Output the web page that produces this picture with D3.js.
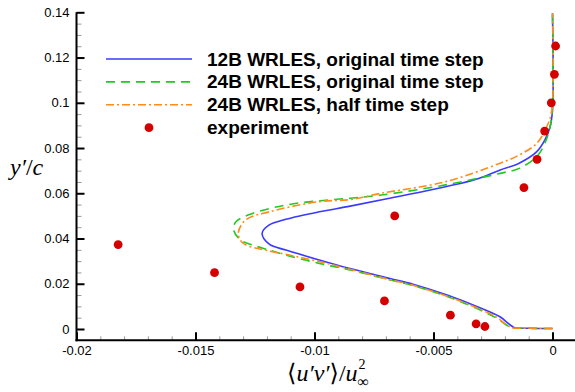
<!DOCTYPE html>
<html>
<head>
<meta charset="utf-8">
<script src="https://cdn.jsdelivr.net/npm/d3@7/dist/d3.min.js"></script>
<style>
  html, body { margin: 0; padding: 0; background: #fff; }
  svg { display: block; }
</style>
</head>
<body>
<svg id="chart" width="575" height="392"></svg>
<script>
// Reynolds shear stress profiles: <u'v'>/u_inf^2 versus wall distance y'/c

const seriesNames = [
  "12B WRLES, original time step",
  "24B WRLES, original time step",
  "24B WRLES, half time step",
  "experiment"
];

// [<u'v'>/u^2, y'/c] along each profile, from the wall upward
const wrles12Orig = [
  [0.0000, 0.0002], [-0.0010, 0.0003], [-0.0016, 0.0005], [-0.00167, 0.0010],
  [-0.00186, 0.0025], [-0.00221, 0.0054], [-0.00305, 0.0094], [-0.00443, 0.0150],
  [-0.00586, 0.0198], [-0.00683, 0.0223], [-0.00851, 0.0267], [-0.0098, 0.0305],
  [-0.0112, 0.0349], [-0.0119, 0.0375], [-0.0122, 0.0423], [-0.0119, 0.0460],
  [-0.0112, 0.0485], [-0.0098, 0.0518], [-0.0085, 0.0543], [-0.0069, 0.0577],
  [-0.0045, 0.0629], [-0.0032, 0.0662], [-0.0022, 0.0703], [-0.0014, 0.0733],
  [-0.00066, 0.0784], [-0.00032, 0.0836], [-0.0001, 0.0894], [0.0000, 0.0968],
  [0.0000, 0.1396]
];

const wrles24Orig = [
  [0.0000, 0.0002], [-0.0010, 0.0003], [-0.0017, 0.0005], [-0.0018, 0.0010],
  [-0.0020, 0.0022], [-0.00235, 0.0048], [-0.00310, 0.0087], [-0.00443, 0.0144],
  [-0.00586, 0.0192], [-0.00683, 0.0217], [-0.00851, 0.0261], [-0.0098, 0.0290],
  [-0.0112, 0.0327], [-0.0119, 0.0349], [-0.0126, 0.0371], [-0.0131, 0.0393],
  [-0.0134, 0.0438], [-0.0133, 0.0474], [-0.0126, 0.0511], [-0.0112, 0.0548],
  [-0.0098, 0.0567], [-0.0085, 0.0578], [-0.0072, 0.0592], [-0.0045, 0.0637],
  [-0.0022, 0.0688], [-0.0014, 0.0710], [-0.00066, 0.0762], [-0.00032, 0.0821],
  [-0.0001, 0.0894], [0.0000, 0.0980], [0.0000, 0.1396]
];

const wrles24Half = [
  [0.0000, 0.0002], [-0.0010, 0.0003], [-0.0017, 0.0005], [-0.0018, 0.0010],
  [-0.0020, 0.0023], [-0.00232, 0.0050], [-0.00308, 0.0089], [-0.00443, 0.0145],
  [-0.00586, 0.0193], [-0.00683, 0.0218], [-0.00851, 0.0264], [-0.0098, 0.0298],
  [-0.0112, 0.0330], [-0.0119, 0.0345], [-0.0130, 0.0379], [-0.0132, 0.0423],
  [-0.0129, 0.0482], [-0.0119, 0.0518], [-0.0098, 0.0563], [-0.0085, 0.0572],
  [-0.0072, 0.0600], [-0.0045, 0.0651], [-0.0022, 0.0733], [-0.0014, 0.0769],
  [-0.00066, 0.0821], [-0.00024, 0.0894], [-0.00003, 0.0968], [0.0000, 0.1396]
];

const experiment = [
  [-0.00284, 0.0011], [-0.00321, 0.0023], [-0.00429, 0.0061], [-0.00706, 0.0124],
  [-0.01061, 0.0186], [-0.01420, 0.0249], [-0.01825, 0.0373], [-0.00663, 0.0500],
  [-0.00120, 0.0625], [-0.00065, 0.0750], [-0.00033, 0.0875], [-0.00005, 0.1000],
  [0.00008, 0.1126], [0.00013, 0.1251]
];

const xMajorTicks = [-0.02, -0.015, -0.01, -0.005, 0];
const xTickLabels = ["-0.02", "-0.015", "-0.01", "-0.005", "0"];
const yMajorTicks = [0, 0.02, 0.04, 0.06, 0.08, 0.1, 0.12, 0.14];
const yTickLabels = ["0", "0.02", "0.04", "0.06", "0.08", "0.1", "0.12", "0.14"];

const svg = d3.select("#chart");

const x = d3.scaleLinear().domain([-0.02, 0.001]).range([76.5, 576.3]);
const y = d3.scaleLinear().domain([-0.005, 0.14]).range([340.3, 12.3]);

const sansFont = "'Liberation Sans', Arial, Helvetica, sans-serif";
const serifFont = "'Liberation Serif', 'Times New Roman', 'DejaVu Serif', serif";

// minor ticks (inward)
const xMinor = d3.range(0, 21).map(i => -0.02 + i * 0.001)
  .filter(v => !xMajorTicks.some(m => Math.abs(m - v) < 1e-9));
const yMinor = d3.range(0, 29).map(i => i * 0.005)
  .filter(v => !yMajorTicks.some(m => Math.abs(m - v) < 1e-9));

const xAxisMinor = d3.axisBottom(x).tickValues(xMinor).tickSize(-4).tickFormat("");
const yAxisMinor = d3.axisLeft(y).tickValues(yMinor).tickSize(-5).tickFormat("");

svg.append("g").attr("transform", `translate(0,${y(-0.005)})`).call(xAxisMinor)
  .call(g => g.select(".domain").remove())
  .call(g => g.selectAll("line").attr("stroke", "#999").attr("stroke-width", 1));
svg.append("g").attr("transform", `translate(${x(-0.02)},0)`).call(yAxisMinor)
  .call(g => g.select(".domain").remove())
  .call(g => g.selectAll("line").attr("stroke", "#999").attr("stroke-width", 1));

// major ticks + labels
const xAxis = d3.axisBottom(x).tickValues(xMajorTicks).tickSizeInner(-8).tickSizeOuter(0)
  .tickPadding(5).tickFormat((d, i) => xTickLabels[i]);
const yAxis = d3.axisLeft(y).tickValues(yMajorTicks).tickSizeInner(-8).tickSizeOuter(0)
  .tickPadding(7).tickFormat((d, i) => yTickLabels[i]);

svg.append("g").attr("transform", `translate(0,${y(-0.005)})`).call(xAxis)
  .call(g => g.select(".domain").attr("stroke", "#000").attr("stroke-width", 2)
    .attr("d", `M${x(-0.02) - 1},0H575`))
  .call(g => g.selectAll(".tick line").attr("stroke", "#000").attr("stroke-width", 2))
  .call(g => g.selectAll("text").attr("font-family", sansFont).attr("font-size", 13)
    .attr("fill", "#000"));

svg.append("g").attr("transform", `translate(${x(-0.02)},0)`).call(yAxis)
  .call(g => g.select(".domain").attr("stroke", "#000").attr("stroke-width", 2)
    .attr("d", `M0,${y(0.14)}V${y(-0.005) + 1}`))
  .call(g => g.selectAll(".tick line").attr("stroke", "#000").attr("stroke-width", 2))
  .call(g => g.selectAll("text").attr("font-family", sansFont).attr("font-size", 13)
    .attr("fill", "#000"));

// profiles
const line = d3.line()
  .x(d => x(d[0]))
  .y(d => y(d[1]))
  .curve(d3.curveCatmullRom.alpha(0.5));

const styles = [
  { data: wrles12Orig, color: "#3a3aff", dash: null },
  { data: wrles24Orig, color: "#22c922", dash: "9,6" },
  { data: wrles24Half, color: "#ff8c1a", dash: "8,3,2,3" }
];

styles.forEach(s => {
  svg.append("path")
    .datum(s.data)
    .attr("d", line)
    .attr("fill", "none")
    .attr("stroke", s.color)
    .attr("stroke-width", 1.6)
    .attr("stroke-dasharray", s.dash);
});

// experimental points
svg.append("g").selectAll("circle")
  .data(experiment)
  .join("circle")
  .attr("cx", d => x(d[0]))
  .attr("cy", d => y(d[1]))
  .attr("r", 4.4)
  .attr("fill", "#d40000");

// legend
const legend = svg.append("g");
const rowY = i => 59 + i * 22.9;
styles.forEach((s, i) => {
  legend.append("line")
    .attr("x1", 106).attr("x2", 192)
    .attr("y1", rowY(i)).attr("y2", rowY(i))
    .attr("stroke", s.color).attr("stroke-width", 1.6)
    .attr("stroke-dasharray", s.dash);
});
legend.append("circle").attr("cx", 149).attr("cy", rowY(3)).attr("r", 4.4).attr("fill", "#d40000");
seriesNames.forEach((name, i) => {
  legend.append("text")
    .attr("x", 207).attr("y", rowY(i) + 6.5)
    .attr("font-family", sansFont).attr("font-weight", "bold").attr("font-size", 19)
    .attr("fill", "#000")
    .text(name);
});

// axis titles
const yTitle = svg.append("text")
  .attr("x", 10).attr("y", 175)
  .attr("font-family", serifFont).attr("font-size", 24).attr("fill", "#000");
yTitle.append("tspan").attr("font-style", "italic").text("y\u2032");
yTitle.append("tspan").text("/");
yTitle.append("tspan").attr("font-style", "italic").text("c");

const xTitle = svg.append("text")
  .attr("x", 287).attr("y", 381)
  .attr("font-family", serifFont).attr("font-size", 24).attr("fill", "#000");
xTitle.append("tspan").text("\u27E8");
xTitle.append("tspan").attr("font-style", "italic").text("u\u2032v\u2032");
xTitle.append("tspan").text("\u27E9/");
xTitle.append("tspan").attr("font-style", "italic").text("u");
const xEnd = 287 + xTitle.node().getComputedTextLength();
svg.append("text").attr("x", xEnd + 1).attr("y", 369)
  .attr("font-family", serifFont).attr("font-size", 14).attr("fill", "#000").text("2");
svg.append("text").attr("x", xEnd).attr("y", 387)
  .attr("font-family", serifFont).attr("font-size", 16).attr("fill", "#000").text("\u221E");
</script>
</body>
</html>
